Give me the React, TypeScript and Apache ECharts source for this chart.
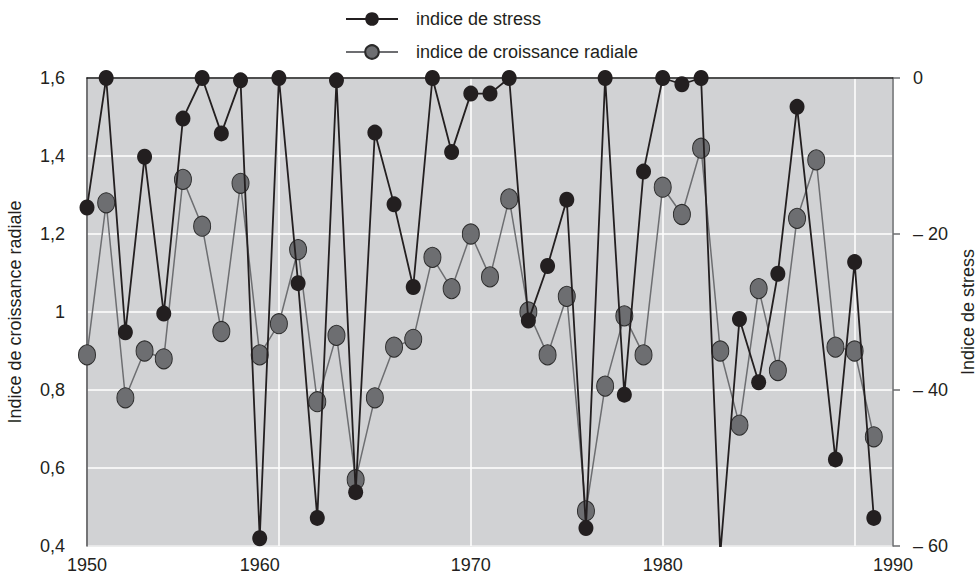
import React, { useEffect, useRef } from 'react';
import * as echarts from 'echarts';

// Years of observation (x values)
const years = [
  1950, 1951, 1952, 1953, 1954, 1955, 1956, 1957, 1958, 1959,
  1960, 1961, 1962, 1963, 1964, 1965, 1966, 1967, 1968, 1969,
  1970, 1971, 1972, 1973, 1974, 1975, 1976, 1977, 1978, 1979,
  1980, 1981, 1982, 1983, 1984, 1985, 1986, 1987, 1988, 1989,
  1990, 1991,
];

// Indice de stress (right axis, 0 .. -60); null = no marker in the figure
const stressIndex: (number | null)[] = [
  -16.6, 0, -32.6, -10.1, -30.2, -5.2, 0, -7.1, -0.3, -59.0,
  0, -26.3, -56.4, -0.3, -53.1, -7.0, -16.2, -26.8, 0, -9.5,
  -2.0, -2.0, 0, -31.1, -24.1, -15.6, -57.7, 0, -40.6, -12.0,
  0, -0.8, 0, -61, -30.9, -39.0, -25.1, -3.7, null, -48.9,
  -23.6, -56.4,
];

// Indice de croissance radiale (left axis, 0.4 .. 1.6)
const growthIndex = [
  0.89, 1.28, 0.78, 0.9, 0.88, 1.34, 1.22, 0.95, 1.33, 0.89,
  0.97, 1.16, 0.77, 0.94, 0.57, 0.78, 0.91, 0.93, 1.14, 1.06,
  1.2, 1.09, 1.29, 1.0, 0.89, 1.04, 0.49, 0.81, 0.99, 0.89,
  1.32, 1.25, 1.42, 0.9, 0.71, 1.06, 0.85, 1.24, 1.39, 0.91,
  0.9, 0.68,
];

// Printed x tick labels and where the figure prints them
const xTickLabels = ['1950', '1960', '1970', '1980', '1990'];
const xTickLabelAt = [1950, 1959, 1970, 1980, 1992];

const seriesNames = ['indice de stress', 'indice de croissance radiale'];

export default function App() {
  const ref = useRef<HTMLDivElement>(null);

  useEffect(() => {
    document.body.style.margin = '0';
    const chart = echarts.init(ref.current as HTMLDivElement, null, { renderer: 'svg' });
    const font = "'Liberation Sans', Arial, Helvetica, sans-serif";
    const textColor = '#231f20';

    chart.setOption({
      animation: false,
      textStyle: { fontFamily: font, color: textColor },
      legend: {
        data: seriesNames,
        orient: 'vertical',
        left: 345,
        top: 10,
        padding: 0,
        itemWidth: 52,
        itemHeight: 17,
        itemGap: 15,
        textStyle: { fontSize: 18, color: textColor, fontFamily: font, padding: [0, 0, 0, 13] },
      },
      grid: {
        left: 87,
        right: 84,
        top: 78,
        bottom: 30,
        outerBoundsMode: 'none',
        containLabel: false,
        show: true,
        backgroundColor: '#d1d2d4',
        borderColor: '#6d6e71',
        borderWidth: 1,
      },
      xAxis: {
        type: 'value',
        min: 1950,
        max: 1992,
        interval: 10,
        axisLine: { show: true, lineStyle: { color: '#1a1a1a', width: 1.5 } },
        axisTick: { show: false },
        splitLine: { show: true, lineStyle: { color: '#ffffff', width: 1.5 } },
        axisLabel: {
          customValues: xTickLabelAt,
          formatter: (v: number) => {
            const i = xTickLabelAt.indexOf(v);
            return i >= 0 ? xTickLabels[i] : '';
          },
          margin: 11,
          fontSize: 18,
          lineHeight: 16,
          color: textColor,
          fontFamily: font,
        },
      },
      yAxis: [
        {
          type: 'value',
          position: 'left',
          min: 0.4,
          max: 1.6,
          interval: 0.2,
          name: 'Indice de croissance radiale',
          nameLocation: 'middle',
          nameGap: 63,
          nameRotate: 90,
          nameTextStyle: { fontSize: 18, color: textColor, fontFamily: font },
          axisLine: { show: true, lineStyle: { color: '#4d4d4f', width: 1.5 } },
          axisTick: { show: false },
          splitLine: { show: true, lineStyle: { color: '#ffffff', width: 1.5 } },
          axisLabel: {
            margin: 22,
            fontSize: 18,
            color: textColor,
            fontFamily: font,
            formatter: (v: number) => String(Math.round(v * 10) / 10).replace('.', ','),
          },
        },
        {
          type: 'value',
          position: 'right',
          min: -60,
          max: 0,
          interval: 20,
          name: 'Indice de stress',
          nameLocation: 'middle',
          nameGap: 65,
          nameRotate: 90,
          nameTextStyle: { fontSize: 18, lineHeight: 16, color: textColor, fontFamily: font },
          axisLine: { show: true, lineStyle: { color: '#6d6e71', width: 1.5 } },
          axisTick: { show: true, inside: false, length: 7, lineStyle: { color: '#6d6e71', width: 1.5 } },
          splitLine: { show: false },
          axisLabel: {
            margin: 20,
            fontSize: 18,
            color: textColor,
            fontFamily: font,
            formatter: (v: number) => (v === 0 ? '0' : '\u2013 ' + Math.abs(v)),
          },
        },
      ],
      series: [
        {
          name: seriesNames[1],
          type: 'line',
          yAxisIndex: 0,
          data: years.map((y, i) => [y, growthIndex[i]]),
          symbol: 'circle',
          symbolSize: [17, 20],
          itemStyle: { color: '#6d6e71', borderColor: '#2b2b2b', borderWidth: 1 },
          lineStyle: { color: '#6d6e71', width: 1.5 },
          z: 2,
        },
        {
          name: seriesNames[0],
          type: 'line',
          yAxisIndex: 1,
          data: years.map((y, i) => [y, stressIndex[i]]),
          connectNulls: true,
          symbol: 'circle',
          symbolSize: [15, 16],
          itemStyle: { color: '#231f20' },
          lineStyle: { color: '#231f20', width: 1.8 },
          z: 3,
        },
      ],
    });

    return () => chart.dispose();
  }, []);

  return <div ref={ref} style={{ width: 977, height: 576 }} />;
}
